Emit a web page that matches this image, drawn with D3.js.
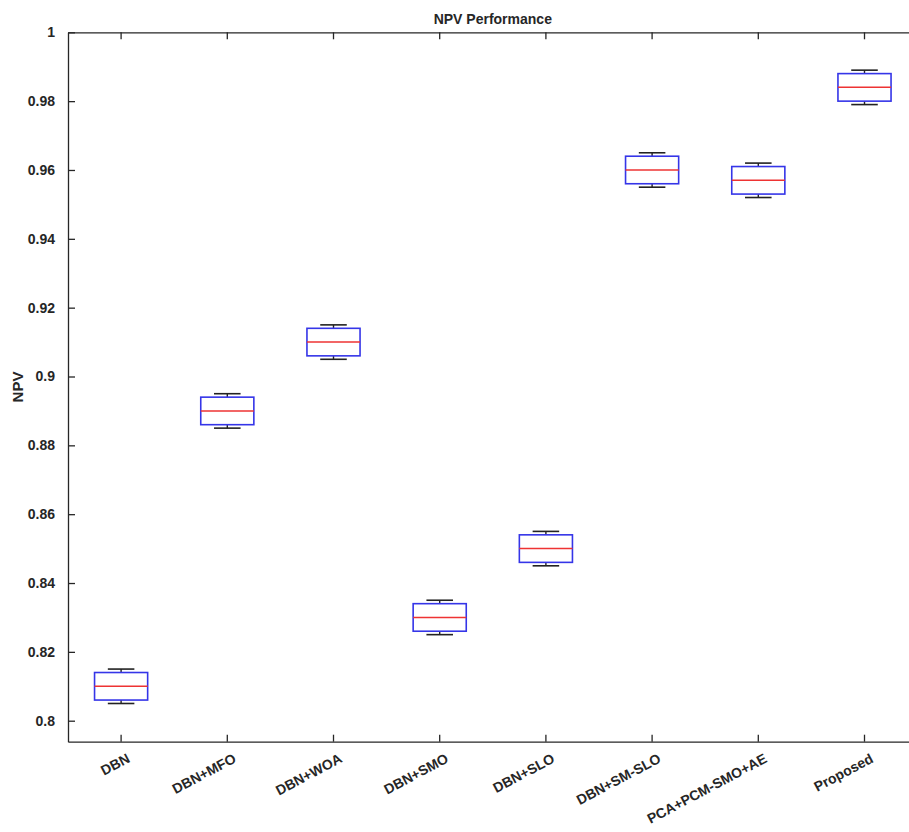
<!DOCTYPE html>
<html>
<head>
<meta charset="utf-8">
<script src="https://cdn.jsdelivr.net/npm/d3@7/dist/d3.min.js"></script>
<style>
  html, body { margin: 0; padding: 0; background: #fff; }
  svg { display: block; }
  text { font-family: "Liberation Sans", Arial, sans-serif; font-weight: bold; fill: #262626; }
</style>
</head>
<body>
<script>
// Methods compared and their NPV distribution summaries
const categories = ["DBN", "DBN+MFO", "DBN+WOA", "DBN+SMO", "DBN+SLO", "DBN+SM-SLO", "PCA+PCM-SMO+AE", "Proposed"];
const whiskerLow  = [0.805, 0.885, 0.905, 0.825, 0.845, 0.955, 0.952, 0.979];
const quartile1   = [0.806, 0.886, 0.906, 0.826, 0.846, 0.956, 0.953, 0.980];
const medians     = [0.810, 0.890, 0.910, 0.830, 0.850, 0.960, 0.957, 0.984];
const quartile3   = [0.814, 0.894, 0.914, 0.834, 0.854, 0.964, 0.961, 0.988];
const whiskerHigh = [0.815, 0.895, 0.915, 0.835, 0.855, 0.965, 0.962, 0.989];

const yTicks      = [0.8, 0.82, 0.84, 0.86, 0.88, 0.9, 0.92, 0.94, 0.96, 0.98, 1];
const yTickLabels = ["0.8", "0.82", "0.84", "0.86", "0.88", "0.9", "0.92", "0.94", "0.96", "0.98", "1"];

const W = 909, H = 832;
const plotLeft = 68, plotRight = 917.6, plotTop = 32.3, plotBottom = 741.7;

const svg = d3.select("body").append("svg").attr("width", W).attr("height", H);

const x = d3.scaleBand().domain(categories).range([plotLeft, plotRight]).padding(0);
const y = d3.scaleLinear().domain([0.7939, 1]).range([plotBottom, plotTop]);
const bw = x.bandwidth();
const cx = c => x(c) + bw / 2;

const axisColor = "#262626";
const tickLen = 7;

// Axes: ticks point inward on all four sides
const gL = svg.append("g").attr("transform", `translate(${plotLeft},0)`)
  .call(d3.axisLeft(y).tickValues(yTicks).tickFormat((d, i) => yTickLabels[i]).tickSizeInner(-tickLen).tickSizeOuter(0).tickPadding(13));
const gR = svg.append("g").attr("transform", `translate(${plotRight},0)`)
  .call(d3.axisRight(y).tickValues(yTicks).tickFormat("").tickSizeInner(-tickLen).tickSizeOuter(0));
const gB = svg.append("g").attr("transform", `translate(0,${plotBottom})`)
  .call(d3.axisBottom(x).tickSizeInner(-tickLen).tickSizeOuter(0).tickFormat(""));
const gT = svg.append("g").attr("transform", `translate(0,${plotTop})`)
  .call(d3.axisTop(x).tickSizeInner(-tickLen).tickSizeOuter(0).tickFormat(""));

[gL, gR, gB, gT].forEach(g => {
  g.selectAll("path.domain").attr("stroke", axisColor).attr("stroke-width", 1.3);
  g.selectAll(".tick line").attr("stroke", axisColor).attr("stroke-width", 1.3);
});
gL.selectAll(".tick text")
  .style("font-family", "'Liberation Sans', Arial, sans-serif")
  .style("font-weight", "bold").style("font-size", "14px").attr("fill", axisColor);

// Rotated category labels, anchored at their top-right corner under each tick
svg.append("g").selectAll("text").data(categories).join("text")
  .attr("transform", d => `translate(${cx(d) + 5},${plotBottom + 11}) rotate(-28)`)
  .attr("text-anchor", "end")
  .attr("dy", "0.72em")
  .style("font-size", "14px")
  .text(d => d);

// Title and y-axis label
svg.append("text").attr("x", (plotLeft + plotRight) / 2).attr("y", 24)
  .attr("text-anchor", "middle").style("font-size", "14px").text("NPV Performance");
svg.append("text").attr("transform", `translate(23,${(plotTop + plotBottom) / 2}) rotate(-90)`)
  .attr("text-anchor", "middle").style("font-size", "15px").text("NPV");

// Box plots
const boxes = svg.append("g").selectAll("g").data(categories).join("g");
const half = bw * 0.25, cap = bw * 0.125;

boxes.append("line")
  .attr("x1", d => cx(d)).attr("x2", d => cx(d))
  .attr("y1", (d, i) => y(quartile3[i])).attr("y2", (d, i) => y(whiskerHigh[i]))
  .attr("stroke", "#222").attr("stroke-width", 1.4);
boxes.append("line")
  .attr("x1", d => cx(d)).attr("x2", d => cx(d))
  .attr("y1", (d, i) => y(quartile1[i])).attr("y2", (d, i) => y(whiskerLow[i]))
  .attr("stroke", "#222").attr("stroke-width", 1.4);
boxes.append("line")
  .attr("x1", d => cx(d) - cap).attr("x2", d => cx(d) + cap)
  .attr("y1", (d, i) => y(whiskerHigh[i])).attr("y2", (d, i) => y(whiskerHigh[i]))
  .attr("stroke", "#222").attr("stroke-width", 1.6);
boxes.append("line")
  .attr("x1", d => cx(d) - cap).attr("x2", d => cx(d) + cap)
  .attr("y1", (d, i) => y(whiskerLow[i])).attr("y2", (d, i) => y(whiskerLow[i]))
  .attr("stroke", "#222").attr("stroke-width", 1.6);
boxes.append("rect")
  .attr("x", d => cx(d) - half).attr("width", half * 2)
  .attr("y", (d, i) => y(quartile3[i]))
  .attr("height", (d, i) => y(quartile1[i]) - y(quartile3[i]))
  .attr("fill", "none").attr("stroke", "#3535e8").attr("stroke-width", 1.6);
boxes.append("line")
  .attr("x1", d => cx(d) - half).attr("x2", d => cx(d) + half)
  .attr("y1", (d, i) => y(medians[i])).attr("y2", (d, i) => y(medians[i]))
  .attr("stroke", "#ee3333").attr("stroke-width", 1.5);
</script>
</body>
</html>
